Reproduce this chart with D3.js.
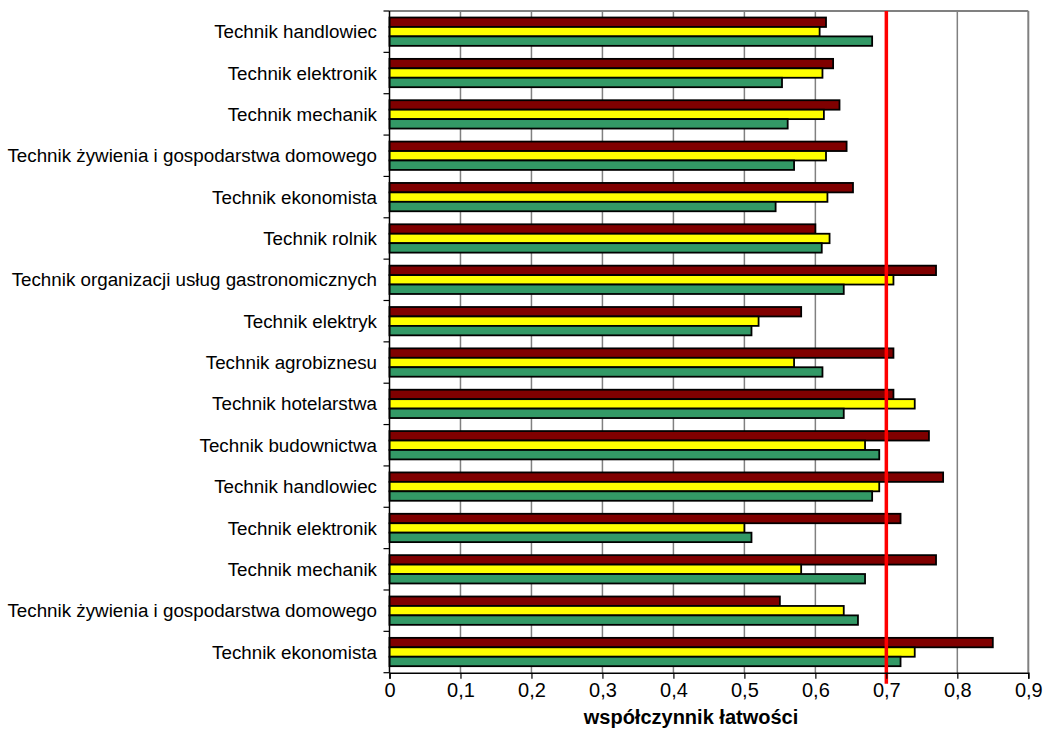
<!DOCTYPE html>
<html>
<head>
<meta charset="utf-8">
<script src="https://cdn.jsdelivr.net/npm/d3@7"></script>
<style>
  html, body { margin: 0; padding: 0; background: #ffffff; }
  svg { display: block; }
  text { font-family: Arial, "Liberation Sans", sans-serif; fill: #000; }
</style>
</head>
<body>
<svg id="chart" width="1045" height="740"></svg>
<script>
const categories = [
  "Technik handlowiec",
  "Technik elektronik",
  "Technik mechanik",
  "Technik żywienia i gospodarstwa domowego",
  "Technik ekonomista",
  "Technik rolnik",
  "Technik organizacji usług gastronomicznych",
  "Technik elektryk",
  "Technik agrobiznesu",
  "Technik hotelarstwa",
  "Technik budownictwa",
  "Technik handlowiec",
  "Technik elektronik",
  "Technik mechanik",
  "Technik żywienia i gospodarstwa domowego",
  "Technik ekonomista"
];
const seriesNames = ["s3", "s2", "s1"];
const valuesRed    = [0.615, 0.625, 0.634, 0.644, 0.653, 0.60, 0.77, 0.58, 0.71, 0.71, 0.76, 0.78, 0.72, 0.77, 0.55, 0.85];
const valuesYellow = [0.606, 0.61, 0.612, 0.615, 0.617, 0.62, 0.71, 0.52, 0.57, 0.74, 0.67, 0.69, 0.50, 0.58, 0.64, 0.74];
const valuesGreen  = [0.68, 0.553, 0.561, 0.57, 0.544, 0.609, 0.64, 0.51, 0.61, 0.64, 0.69, 0.68, 0.51, 0.67, 0.66, 0.72];
const seriesColors = ["#800000", "#FFFF00", "#339966"];
const xTicks = [0, 0.1, 0.2, 0.3, 0.4, 0.5, 0.6, 0.7, 0.8, 0.9];
const xTickLabels = ["0", "0,1", "0,2", "0,3", "0,4", "0,5", "0,6", "0,7", "0,8", "0,9"];
const thresholdValue = 0.7;
const xTitle = "współczynnik łatwości";

const seriesValues = [valuesRed, valuesYellow, valuesGreen];

const svg = d3.select("#chart");
const pLeft = 389.5, pRight = 1028.3, pTop = 11, pBottom = 672.7;

const x = d3.scaleLinear().domain([0, 0.9]).range([pLeft, pRight]);
const y = d3.scaleBand().domain(d3.range(categories.length)).range([pTop, pBottom]).padding(0);
const ys = d3.scaleBand().domain(seriesNames).range([0, y.bandwidth()]).paddingInner(0).paddingOuter(0.69);

// gridlines
svg.append("g").selectAll("line").data(xTicks.filter(t => t > 0 && t < 0.9)).join("line")
  .attr("x1", d => x(d)).attr("x2", d => x(d))
  .attr("y1", pTop).attr("y2", pBottom)
  .attr("stroke", "#808080").attr("stroke-width", 1.5);

// plot border top/right
svg.append("line").attr("x1", pLeft).attr("x2", pRight).attr("y1", pTop).attr("y2", pTop)
  .attr("stroke", "#808080").attr("stroke-width", 2);
svg.append("line").attr("x1", pRight).attr("x2", pRight).attr("y1", pTop).attr("y2", pBottom)
  .attr("stroke", "#808080").attr("stroke-width", 2);

// bars
categories.forEach((c, i) => {
  const g = svg.append("g").attr("transform", `translate(0,${y(i)})`);
  seriesNames.forEach((s, k) => {
    g.append("rect")
      .attr("x", x(0))
      .attr("y", ys(s))
      .attr("width", x(seriesValues[k][i]) - x(0))
      .attr("height", ys.bandwidth())
      .attr("fill", seriesColors[k])
      .attr("stroke", "#000")
      .attr("stroke-width", 1.8);
  });
});

// threshold line
svg.append("line")
  .attr("x1", x(thresholdValue)).attr("x2", x(thresholdValue))
  .attr("y1", pTop).attr("y2", pBottom + 11)
  .attr("stroke", "#FF0000").attr("stroke-width", 3.5);

// y axis
const yAxisG = svg.append("g");
yAxisG.append("line").attr("x1", pLeft).attr("x2", pLeft).attr("y1", pTop).attr("y2", pBottom)
  .attr("stroke", "#000").attr("stroke-width", 1.5);
yAxisG.selectAll("line.tk").data(d3.range(categories.length + 1)).join("line").attr("class", "tk")
  .attr("x1", pLeft - 6).attr("x2", pLeft)
  .attr("y1", d => pTop + d * y.step()).attr("y2", d => pTop + d * y.step())
  .attr("stroke", "#000").attr("stroke-width", 1.2);
yAxisG.selectAll("text").data(categories).join("text")
  .attr("x", 377)
  .attr("y", (d, i) => y(i) + y.bandwidth() / 2)
  .attr("dy", "0.35em")
  .attr("text-anchor", "end")
  .attr("font-size", "18.8px")
  .text(d => d);

// x axis
const xAxis = d3.axisBottom(x).tickValues(xTicks).tickFormat((d, i) => xTickLabels[i]).tickSize(6).tickPadding(4);
const xg = svg.append("g").attr("transform", `translate(0,${pBottom})`).call(xAxis);
xg.select(".domain").attr("stroke", "#000").attr("stroke-width", 1.5);
xg.selectAll(".tick line").attr("stroke", "#000").attr("stroke-width", 1.2);
xg.selectAll(".tick text").attr("font-size", "20px").attr("font-family", "Arial, 'Liberation Sans', sans-serif").attr("fill", "#000");

svg.append("text")
  .attr("x", 691).attr("y", 717).attr("dy", "0.35em")
  .attr("text-anchor", "middle")
  .attr("font-size", "20px").attr("font-weight", "bold")
  .text(xTitle);
</script>
</body>
</html>
